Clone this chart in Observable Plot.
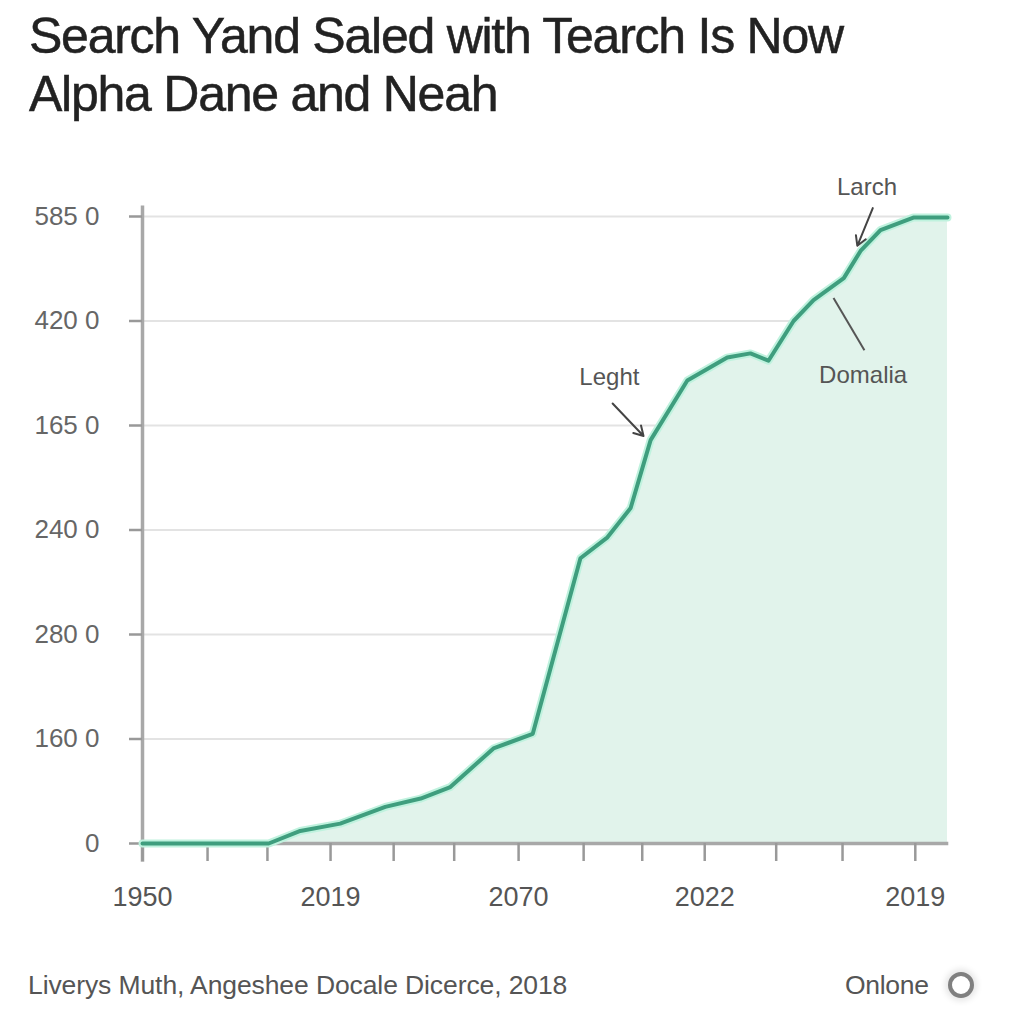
<!DOCTYPE html>
<html>
<head>
<meta charset="utf-8">
<script src="https://cdn.jsdelivr.net/npm/d3@7"></script>
<script src="https://cdn.jsdelivr.net/npm/@observablehq/plot@0.6"></script>
<style>
  html, body { margin: 0; padding: 0; background: #ffffff; }
  body { width: 1024px; height: 1024px; position: relative; overflow: hidden; font-family: "Liberation Sans", Arial, sans-serif; }
  #title { position: absolute; left: 29px; top: 7px; font-size: 50px; line-height: 58px; color: #222; letter-spacing: -1.25px; -webkit-text-stroke: 0.5px #222; }
  #chart { position: absolute; left: 0; top: 160px; }
  #source { position: absolute; left: 28px; top: 969px; font-size: 26.5px; line-height: 32px; color: #555; letter-spacing: -0.1px; }
  #online { position: absolute; left: 845px; top: 969px; font-size: 26.5px; line-height: 32px; color: #555; letter-spacing: -0.3px; }
  #icon { position: absolute; left: 948px; top: 972px; width: 18px; height: 18px; border-radius: 50%; border: 4px solid #808080; background: #fff; box-shadow: 0 0 6px 3px rgba(0,0,0,0.10); }
</style>
</head>
<body>
<div id="title">Search Yand Saled with Tearch Is Now<br>Alpha Dane and Neah</div>
<div id="chart"></div>
<div id="source">Liverys Muth, Angeshee Docale Dicerce, 2018</div>
<div id="online">Onlone</div>
<div id="icon"></div>
<script>
// y tick labels (bottom to top), one per gridline
const yLabels = ["0", "160 0", "280 0", "240 0", "165 0", "420 0", "585 0"];
const yTicks = [0, 1, 2, 3, 4, 5, 6];

// x tick positions (index units) and their labels
const xTicks = [0, 1.01, 1.94, 2.92, 3.90, 4.84, 5.84, 6.85, 7.76, 8.73, 9.84, 10.87, 12.0];
const xLabels = ["1950", "", "", "2019", "", "", "2070", "", "", "2022", "", "", "2019"];

// series (x in index units, y in gridline units)
const xs = [0, 1.01, 1.96, 2.45, 3.07, 3.77, 4.32, 4.78, 5.45, 6.06, 6.80, 7.22, 7.58, 7.89, 8.46, 9.08, 9.44, 9.72, 10.11, 10.42, 10.89, 11.15, 11.46, 11.97, 12.50];
const ys = [0, 0, 0, 0.12, 0.19, 0.35, 0.43, 0.54, 0.91, 1.05, 2.73, 2.93, 3.21, 3.86, 4.43, 4.65, 4.69, 4.62, 5.00, 5.20, 5.41, 5.67, 5.87, 5.99, 5.99];

// annotations
const noteText = ["Larch", "Leght", "Domalia"];
const noteX = [11.25, 7.25, 11.19];
const noteY = [6.28, 4.46, 4.48];
const arrowX1 = [11.34, 7.30];
const arrowY1 = [6.08, 4.21];
const arrowX2 = [11.10, 7.78];
const arrowY2 = [5.72, 3.90];
const linkX1 = [10.73], linkY1 = [5.22], linkX2 = [11.21], linkY2 = [4.72];

const data = xs.map((x, i) => ({x, y: ys[i]}));
const notes = noteText.map((t, i) => ({t, x: noteX[i], y: noteY[i]}));
const arrows = arrowX1.map((_, i) => ({x1: arrowX1[i], y1: arrowY1[i], x2: arrowX2[i], y2: arrowY2[i]}));
const links = linkX1.map((_, i) => ({x1: linkX1[i], y1: linkY1[i], x2: linkX2[i], y2: linkY2[i]}));

const chart = Plot.plot({
  width: 1024,
  height: 780,
  marginLeft: 142,
  marginRight: 77,
  marginTop: 56,
  marginBottom: 97,
  style: { fontFamily: "Liberation Sans, Arial, sans-serif", background: "transparent" },
  x: { domain: [0, 12.5] },
  y: { domain: [0, 6] },
  marks: [
    Plot.gridY(yTicks, { stroke: "#e3e3e3", strokeOpacity: 1, strokeWidth: 2 }),
    Plot.areaY(data, { x: "x", y: "y", fill: "#e1f3eb" }),
    Plot.ruleX([0], { y1: -0.18, y2: 6.1, stroke: "#a8a8a8", strokeWidth: 3.5 }),
    Plot.ruleY([0], { x1: -0.03, x2: 12.52, stroke: "#a8a8a8", strokeWidth: 3.5 }),
    Plot.axisY({ ticks: yTicks, tickFormat: d => yLabels[d], tickSize: 13, tickPadding: 30, fontSize: 26, stroke: "#999", strokeWidth: 2.5, fill: "#666", label: null }),
    Plot.axisX({ ticks: xTicks, tickFormat: (d, i) => xLabels[i], tickSize: 18, tickPadding: 25, fontSize: 27, stroke: "#999", strokeWidth: 2.5, fill: "#555", label: null }),
    Plot.lineY(data, { x: "x", y: "y", stroke: "#bff2de", strokeWidth: 8, strokeLinejoin: "round" }),
    Plot.lineY(data, { x: "x", y: "y", stroke: "#3f9e7e", strokeWidth: 4, strokeLinejoin: "round" }),
    Plot.arrow(arrows, { x1: "x1", y1: "y1", x2: "x2", y2: "y2", stroke: "#444", strokeWidth: 2, headLength: 8, bend: 0 }),
    Plot.link(links, { x1: "x1", y1: "y1", x2: "x2", y2: "y2", stroke: "#555", strokeWidth: 2 }),
    Plot.text(notes, { x: "x", y: "y", text: "t", fontSize: 24, fill: "#555" })
  ]
});
document.getElementById("chart").appendChild(chart);
</script>
</body>
</html>
